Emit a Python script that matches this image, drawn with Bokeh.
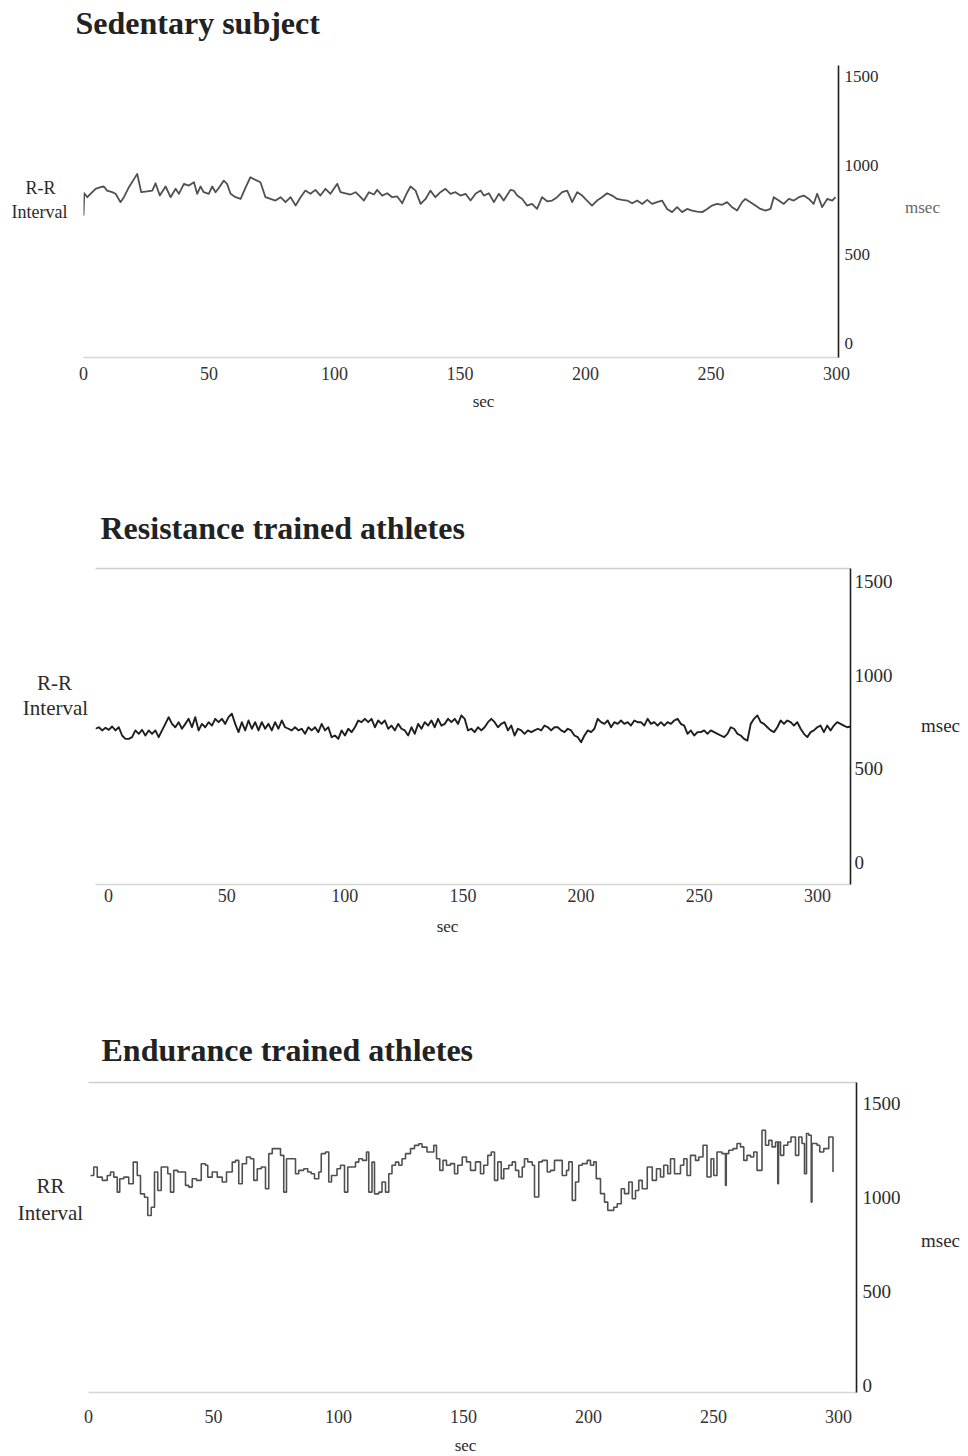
from bokeh.plotting import figure
from bokeh.models import LinearAxis, FixedTicker, Range1d, Label
from bokeh.embed import file_html
from bokeh.resources import INLINE

SERIF = "Liberation Serif"
W = 968

# ---- tick values -------------------------------------------------------
sec_ticks = [0, 50, 100, 150, 200, 250, 300]
msec_ticks = [0, 500, 1000, 1500]

# ---- Sedentary subject: R-R interval (msec) against time (sec) ----------
sed_t = [
    0.0, 0.3, 1.5, 2.8, 4.8, 6.8, 8.1, 9.4, 11.4, 12.8,
    14.7, 16.1, 18.1, 21.4, 23.0, 25.4, 27.4, 28.7, 30.4, 32.7,
    34.7, 36.7, 38.0, 40.0, 42.0, 44.0, 45.3, 46.6, 47.9, 49.9,
    51.3, 52.6, 53.9, 55.9, 57.2, 58.6, 60.6, 62.6, 64.5, 66.5,
    68.5, 70.5, 72.5, 74.5, 76.5, 78.5, 80.5, 82.5, 84.5, 86.5,
    88.4, 90.4, 92.4, 94.4, 96.4, 98.4, 101.1, 102.4, 104.4, 106.4,
    108.4, 110.4, 111.7, 113.7, 115.7, 117.0, 119.0, 121.0, 123.0, 125.0,
    127.0, 129.0, 130.3, 132.3, 134.3, 136.3, 138.2, 140.2, 142.2, 144.2,
    146.2, 148.2, 150.2, 152.2, 154.2, 156.2, 158.2, 159.5, 161.5, 163.5,
    165.5, 167.4, 170.1, 171.4, 172.8, 174.8, 176.7, 178.7, 180.7, 182.7,
    184.7, 186.7, 188.7, 190.7, 192.7, 194.7, 196.7, 198.7, 200.6, 202.6,
    204.6, 206.6, 208.6, 210.6, 212.6, 214.6, 216.6, 218.6, 220.6, 222.6,
    224.6, 226.5, 228.5, 230.5, 232.5, 234.5, 236.5, 238.5, 240.5, 242.5,
    244.5, 246.5, 248.5, 250.4, 252.4, 254.4, 256.4, 258.4, 260.4, 262.4,
    263.7, 265.7, 267.7, 269.7, 271.7, 273.7, 275.0, 277.0, 279.0, 281.0,
    283.0, 285.0, 287.0, 289.0, 290.9, 292.3, 294.3, 296.3, 298.3, 299.6,
]
sed_rr = [
    719, 844, 822, 841, 869, 878, 882, 859, 850, 841,
    794, 822, 878, 953, 850, 855, 859, 900, 831, 882,
    822, 869, 841, 897, 887, 906, 841, 882, 850, 841,
    882, 850, 874, 915, 897, 841, 822, 812, 874, 934,
    919, 906, 822, 812, 803, 822, 794, 822, 775, 822,
    859, 841, 863, 831, 869, 841, 897, 850, 844, 837,
    850, 822, 803, 850, 837, 863, 831, 844, 822, 826,
    788, 850, 882, 859, 784, 812, 859, 822, 850, 869,
    841, 850, 831, 841, 803, 841, 859, 831, 844, 794,
    841, 803, 863, 859, 831, 812, 775, 784, 756, 822,
    799, 803, 822, 850, 859, 794, 850, 831, 803, 775,
    803, 822, 844, 831, 812, 807, 803, 788, 803, 784,
    807, 784, 794, 803, 756, 738, 766, 738, 756, 747,
    741, 738, 756, 775, 784, 779, 794, 766, 747, 794,
    812, 794, 775, 756, 747, 756, 822, 803, 784, 812,
    803, 822, 831, 812, 784, 841, 766, 812, 803, 822,
]

# ---- Resistance trained athletes: evenly resampled R-R series ----------
res_t_start = -5.5   # sec
res_step = 1.4075    # sec between samples
res_rr = [
    714, 722, 705, 719, 708, 726, 705, 722, 678, 660,
    660, 669, 705, 687, 708, 678, 705, 687, 705, 669,
    705, 740, 776, 740, 722, 749, 714, 740, 767, 722,
    776, 705, 740, 722, 749, 731, 767, 749, 767, 740,
    776, 794, 740, 696, 749, 705, 758, 714, 749, 705,
    749, 714, 740, 705, 749, 714, 758, 722, 714, 705,
    722, 705, 714, 687, 722, 705, 722, 696, 740, 705,
    722, 669, 678, 660, 705, 678, 714, 696, 722, 758,
    749, 767, 749, 767, 722, 758, 740, 758, 714, 731,
    705, 740, 714, 705, 678, 722, 687, 740, 714, 749,
    731, 758, 722, 767, 731, 740, 767,
    749, 767, 740, 785, 767, 705, 714, 696, 722, 705,
    722, 749, 767, 749, 722, 740, 749, 705, 731, 678,
    714, 705, 687, 705, 696, 705, 714, 705, 731, 722,
    705, 722, 722, 705, 696, 714, 705, 678, 669, 642,
    678, 705, 696, 714, 767, 749, 740, 758, 722, 749,
    740, 758, 740, 749, 731, 758, 749, 749, 731, 767,
    740, 749, 731, 749, 731, 749, 740, 758, 767, 740,
    731, 687, 705, 678, 696, 696, 705, 687, 705, 696,
    687, 678, 669, 687, 722, 714, 687, 678, 660, 651,
    740, 767, 785, 749, 740, 722, 705, 696, 722, 758,
    740, 758, 749, 731, 749, 714, 687, 669, 696, 705,
    722, 731, 696, 731, 705, 731, 749, 740, 731, 722, 726,
]
res_t = [res_t_start + i * res_step for i in range(len(res_rr))]

# ---- Endurance trained athletes: stepwise R-R record -------------------
end_t = [
    0.8, 2.1, 3.5, 5.5, 7.5, 8.8, 10.1, 11.5, 12.5, 14.1,
    16.1, 17.9, 19.5, 20.8, 22.4, 23.7, 25.1, 26.4, 27.7, 29.1,
    31.7, 32.8, 34.1, 35.7, 38.8, 40.1, 41.5, 43.2, 45.1, 46.8,
    47.7, 49.5, 51.5, 53.5, 55.2, 57.5, 58.8, 60.1, 61.5, 63.2,
    64.8, 66.1, 67.5, 69.1, 70.8, 72.1, 73.5, 76.8, 78.1, 79.2,
    82.8, 84.1, 86.1, 87.7, 89.1, 90.4, 92.1, 93.1, 94.8, 96.1,
    97.2, 99.4, 100.8, 102.4, 103.7, 106.8, 108.1, 109.6, 111.2, 112.1,
    113.4, 114.4, 116.1, 117.4, 118.8, 120.1, 121.4, 122.8, 124.1, 125.4,
    126.8, 128.8, 130.4, 132.1, 133.4, 135.4, 138.1, 139.2, 140.5, 141.8,
    143.2, 144.8, 146.4, 147.7, 149.5, 151.2, 152.8, 154.8, 156.8, 158.1,
    159.7, 161.1, 162.4, 163.7, 165.1, 166.1, 168.1, 169.5, 170.8, 172.1,
    173.5, 174.4, 175.7, 177.5, 178.4, 180.1, 181.5, 183.5, 184.8, 186.4,
    189.5, 191.2, 192.1, 193.5, 194.8, 196.1, 197.5, 199.5, 200.8, 202.1,
    203.1, 204.8, 206.4, 207.7, 210.1, 211.5, 213.1, 214.4, 216.1, 217.5,
    218.8, 220.1, 221.5, 223.5, 225.5, 227.2, 228.8, 230.1, 231.7, 232.8,
    234.4, 236.8, 238.1, 239.4, 240.8, 242.8, 244.1, 245.8, 247.4, 249.0,
    250.1, 251.4, 253.4, 254.8, 255.1, 256.1, 257.8, 259.4, 260.8, 262.1,
    263.4, 264.8, 266.1, 267.4, 269.4, 270.8, 272.1, 273.4, 274.8, 275.7,
    276.0, 276.8, 278.1, 279.7, 281.0, 282.8, 284.1, 285.4, 286.4, 287.2,
    288.1, 289.1, 289.4, 291.4, 292.5, 294.1, 296.1, 297.8,
]
end_rr = [
    1119, 1164, 1110, 1093, 1119, 1137, 1110, 1030, 1101, 1110,
    1075, 1190, 1119, 1021, 1003, 906, 950, 1137, 1039, 1164,
    1128, 1030, 1146, 1137, 1066, 1057, 1101, 1093, 1181, 1173,
    1110, 1137, 1110, 1084, 1137, 1190, 1199, 1075, 1181, 1217,
    1208, 1093, 1155, 1164, 1048, 1235, 1262, 1226, 1030, 1208,
    1128, 1146, 1155, 1137, 1128, 1101, 1137, 1235, 1244, 1084,
    1119, 1155, 1173, 1030, 1164, 1190, 1208, 1199, 1244, 1030,
    1190, 1021, 1030, 1084, 1030, 1128, 1173, 1190, 1173, 1208,
    1235, 1262, 1279, 1288, 1270, 1244, 1279, 1208, 1146, 1199,
    1173, 1182, 1128, 1173, 1217, 1191, 1146, 1191, 1128, 1173,
    1226, 1244, 1093, 1191, 1102, 1155, 1173, 1191, 1146, 1111,
    1164, 1208, 1191, 1173, 1004, 1191, 1199, 1137, 1146, 1199,
    1119, 1146, 1191, 986, 1084, 1173, 1182, 1199, 1173, 1191,
    1102, 1022, 977, 933, 950, 968, 1048, 1022, 1084, 995,
    1039, 1093, 1048, 1164, 1093, 1155, 1111, 1173, 1128, 1208,
    1128, 1173, 1208, 1119, 1226, 1199, 1217, 1280, 1111, 1208,
    1119, 1244, 1235, 1066, 1235, 1253, 1262, 1289, 1271, 1199,
    1226, 1217, 1244, 1146, 1360, 1280, 1306, 1271, 1297, 1075,
    1297, 1226, 1280, 1297, 1324, 1226, 1324, 1289, 1128, 1342,
    1333, 977, 1289, 1280, 1244, 1262, 1324, 1137,
]


def make_panel(height, frame, xr, yr):
    """Blank panel whose plotting frame sits at frame=(left, top, right, bottom) px."""
    left, top, right, bottom = frame
    p = figure(width=W, height=height,
               x_range=Range1d(*xr), y_range=Range1d(*yr),
               output_backend="svg", toolbar_location=None,
               x_axis_location=None, y_axis_location=None,
               min_border_left=left, min_border_right=W - right,
               min_border_top=top, min_border_bottom=height - bottom)
    p.outline_line_color = None
    p.grid.visible = False
    p.background_fill_color = "white"
    p.border_fill_color = "white"

    def at(X, Y):
        x = xr[0] + (X - left) / (right - left) * (xr[1] - xr[0])
        y = yr[1] - (Y - top) / (bottom - top) * (yr[1] - yr[0])
        return x, y
    return p, at


def add_axes(p, x_standoff, y_standoff, top_line=False, y_font="18px"):
    ry = LinearAxis(ticker=FixedTicker(ticks=msec_ticks),
                    axis_line_color="#1e1e1e", axis_line_width=1.6,
                    major_tick_line_color=None, minor_tick_line_color=None,
                    major_tick_in=0, major_tick_out=0,
                    major_label_standoff=y_standoff,
                    major_label_text_font=SERIF,
                    major_label_text_font_size=y_font,
                    major_label_text_color="#2b2b2b")
    p.add_layout(ry, "right")
    bx = LinearAxis(ticker=FixedTicker(ticks=sec_ticks),
                    axis_line_color="#d6d6d6", axis_line_width=1.5,
                    major_tick_line_color=None, minor_tick_line_color=None,
                    major_tick_in=0, major_tick_out=0,
                    major_label_standoff=x_standoff,
                    major_label_text_font=SERIF,
                    major_label_text_font_size="18px",
                    major_label_text_color="#333333")
    p.add_layout(bx, "below")
    if top_line:
        tx = LinearAxis(ticker=FixedTicker(ticks=[]),
                        axis_line_color="#cfcfcf", axis_line_width=1.5,
                        major_tick_line_color=None, minor_tick_line_color=None,
                        major_tick_in=0, major_tick_out=0,
                        major_label_standoff=0,
                        major_label_text_font_size="0px")
        p.add_layout(tx, "above")


def text(p, at, side, X, Y, s, size, align="center", bold=False, color="#2b2b2b"):
    """Text placed at page pixel (X, Y), held in one of the panel's side areas."""
    x, y = at(X, Y)
    p.add_layout(Label(x=x, y=y, text=s, text_font=SERIF,
                       text_font_size=size, text_align=align,
                       text_baseline="middle", text_color=color,
                       text_font_style="bold" if bold else "normal"), side)


# ---- panel 1: Sedentary subject (page y 0..440) ------------------------
p1, at1 = make_panel(440, (83, 65, 838, 357), (0, 300.8), (-79, 1562))
add_axes(p1, x_standoff=9, y_standoff=6, y_font="17px")
p1.line(sed_t, sed_rr, line_color="#505050", line_width=1.8, line_join="round")
text(p1, at1, "above", 75, 22, "Sedentary subject", "32px", align="left", bold=True, color="#222222")
text(p1, at1, "above", 40, 187, "R-R", "18px")
text(p1, at1, "left", 39, 211, "Interval", "18px")
text(p1, at1, "right", 922, 207, "msec", "17px", color="#666666")
text(p1, at1, "below", 483, 401, "sec", "17px")

# ---- panel 2: Resistance trained athletes (page y 440..950) ------------
p2, at2 = make_panel(510, (95, 128, 850, 444), (-5.5, 314.0), (-117, 1569))
add_axes(p2, x_standoff=4, y_standoff=4, top_line=True, y_font="19px")
p2.line(res_t, res_rr, line_color="#1e1e1e", line_width=1.9, line_join="round")
text(p2, at2, "above", 100, 87, "Resistance trained athletes", "32px", align="left", bold=True, color="#222222")
text(p2, at2, "above", 54, 242, "R-R", "21px")
text(p2, at2, "left", 55, 267, "Interval", "21px")
text(p2, at2, "right", 940, 285, "msec", "19px")
text(p2, at2, "below", 447, 486, "sec", "17px")

# ---- panel 3: Endurance trained athletes (page y 950..1456) ------------
p3, at3 = make_panel(506, (88, 132, 856, 442), (0, 307.2), (-37, 1614))
add_axes(p3, x_standoff=17, y_standoff=6, top_line=True, y_font="19px")
p3.step(end_t, end_rr, mode="after", line_color="#505050", line_width=1.6)
text(p3, at3, "above", 101, 99, "Endurance trained athletes", "32px", align="left", bold=True, color="#222222")
text(p3, at3, "above", 50, 235, "RR", "21px")
text(p3, at3, "left", 50, 262, "Interval", "21px")
text(p3, at3, "right", 940, 290, "msec", "19px")
text(p3, at3, "below", 465, 495, "sec", "17px")

# three independent roots so each panel keeps its own frame geometry
open("out.html", "w").write(file_html([p1, p2, p3], INLINE))
